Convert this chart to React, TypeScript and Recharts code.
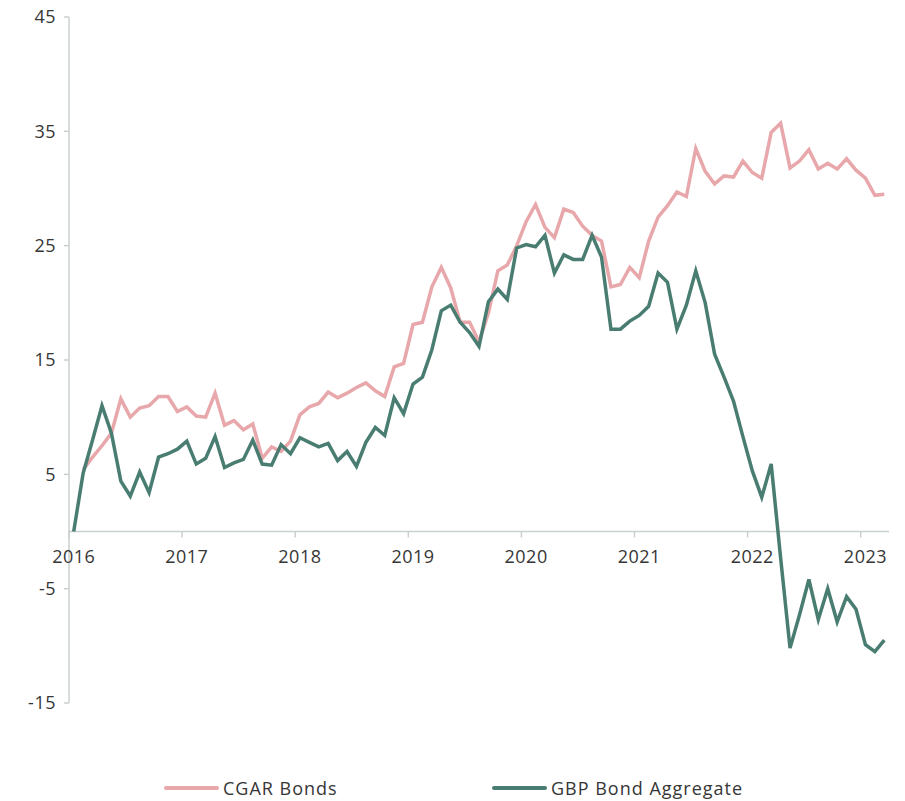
import { LineChart, Line, XAxis, YAxis, ReferenceLine, Legend } from "recharts"

const CHART_W = 905
const CHART_H = 801
const PLOT_TOP = 17
const PLOT_LEFT = 69
const PLOT_RIGHT = 889
const PLOT_BOTTOM = 703

const Y_MIN = -15
const Y_MAX = 45
const yTicks = [-15, -5, 5, 15, 25, 35, 45]

// monthly categories, Jan 2016 .. Mar 2023
const months: string[] = []
for (let y = 2016; y <= 2023; y++) {
  for (let m = 1; m <= 12; m++) {
    if (y === 2023 && m > 3) break
    months.push(`${y}-${String(m).padStart(2, "0")}`)
  }
}
const yearTicks = ["2016-01", "2017-01", "2018-01", "2019-01", "2020-01", "2021-01", "2022-01", "2023-01"]

const cgarBonds = [
  null, 5.4, 6.5, 7.5, 8.6, 11.6, 10.0, 10.8, 11.0, 11.8,
  11.8, 10.5, 10.9, 10.1, 10.0, 12.1, 9.3, 9.7, 8.9, 9.4,
  6.4, 7.4, 7.0, 7.9, 10.2, 10.9, 11.2, 12.2, 11.7, 12.1,
  12.6, 13.0, 12.3, 11.8, 14.4, 14.7, 18.1, 18.3, 21.4, 23.1,
  21.3, 18.3, 18.3, 16.6, 19.1, 22.8, 23.3, 25.0, 27.1, 28.6,
  26.6, 25.7, 28.2, 27.9, 26.7, 25.9, 25.4, 21.4, 21.6, 23.1,
  22.2, 25.4, 27.5, 28.5, 29.7, 29.3, 33.5, 31.5, 30.4, 31.1,
  31.0, 32.4, 31.4, 30.9, 34.9, 35.7, 31.8, 32.4, 33.4, 31.7,
  32.2, 31.7, 32.6, 31.6, 30.9, 29.4, 29.5,
]

const gbpBondAggregate = [
  0, 5.1, 8.0, 11.0, 8.6, 4.4, 3.1, 5.2, 3.4, 6.5,
  6.8, 7.2, 7.9, 5.9, 6.4, 8.3, 5.6, 6.0, 6.3, 8.0,
  5.9, 5.8, 7.6, 6.8, 8.2, 7.8, 7.4, 7.7, 6.2, 7.0,
  5.7, 7.8, 9.1, 8.4, 11.7, 10.3, 12.9, 13.5, 15.9, 19.3,
  19.8, 18.3, 17.4, 16.2, 20.1, 21.2, 20.3, 24.8, 25.1, 24.9,
  25.9, 22.6, 24.2, 23.8, 23.8, 25.9, 24.0, 17.7, 17.7, 18.4,
  18.9, 19.7, 22.6, 21.8, 17.7, 19.8, 22.8, 20.0, 15.5, 13.5,
  11.4, 8.3, 5.3, 3.0, 5.9, -2.3, -10.2, -7.3, -4.2, -7.7,
  -5.0, -7.9, -5.7, -6.8, -9.9, -10.5, -9.5,
]

const data = months.map((month, i) => ({
  month,
  cgar: cgarBonds[i],
  gbp: gbpBondAggregate[i],
}))

const PINK = "#E8A7AA"
const GREEN = "#4A7D72"
const AXIS = "#C8D1CE"
const TEXT = "#363636"
const FONT = "'Open Sans', 'Noto Sans', sans-serif"

const BAND = (PLOT_RIGHT - PLOT_LEFT) / months.length
const Y_ZERO = PLOT_TOP + ((Y_MAX - 0) / (Y_MAX - Y_MIN)) * (PLOT_BOTTOM - PLOT_TOP)

function YearTick(props: any) {
  const { x, payload } = props
  const edge = x - BAND / 2
  return (
    <g>
      <line x1={edge} x2={edge} y1={Y_ZERO} y2={Y_ZERO + 6} stroke={AXIS} strokeWidth={1.5} />
      <text
        x={x}
        y={Y_ZERO + 31}
        textAnchor="middle"
        fill={TEXT}
        fontSize={18}
        letterSpacing={0.5}
        fontFamily={FONT}
      >
        {String(payload.value).slice(0, 4)}
      </text>
    </g>
  )
}

function renderLegend() {
  const items = [
    { name: "CGAR Bonds", color: PINK, left: 164 },
    { name: "GBP Bond Aggregate", color: GREEN, left: 492 },
  ]
  return (
    <div style={{ position: "relative", height: 24, width: CHART_W }}>
      {items.map((it) => (
        <div
          key={it.name}
          style={{ position: "absolute", left: it.left, top: 0, height: 24, display: "flex", alignItems: "center" }}
        >
          <span style={{ display: "inline-block", width: 55, height: 4, borderRadius: 2, background: it.color }} />
          <span style={{ marginLeft: 4, fontSize: 18, letterSpacing: 1, color: TEXT, fontFamily: FONT }}>
            {it.name}
          </span>
        </div>
      ))}
    </div>
  )
}

export default function App() {
  return (
    <div style={{ position: "absolute", left: 0, top: 0, width: CHART_W, height: CHART_H, background: "#fff" }}>
      <LineChart
        width={CHART_W}
        height={CHART_H}
        data={data}
        margin={{ top: PLOT_TOP, right: CHART_W - PLOT_RIGHT, left: 0, bottom: 1 }}
      >
        <XAxis
          dataKey="month"
          ticks={yearTicks}
          interval={0}
          padding={{ left: BAND / 2, right: BAND / 2 }}
          axisLine={false}
          tickLine={false}
          height={73}
          tick={<YearTick />}
        />
        <YAxis
          domain={[Y_MIN, Y_MAX]}
          ticks={yTicks}
          width={PLOT_LEFT}
          axisLine={{ stroke: AXIS, strokeWidth: 1.5 }}
          tickLine={{ stroke: AXIS, strokeWidth: 1.5 }}
          tickSize={5}
          tickMargin={8}
          tick={{ fill: TEXT, fontSize: 18, letterSpacing: 0.5, fontFamily: FONT }}
        />
        <ReferenceLine y={0} stroke={AXIS} strokeWidth={1.5} />
        <Line
          type="linear"
          dataKey="cgar"
          name="CGAR Bonds"
          stroke={PINK}
          strokeWidth={3.5}
          dot={false}
          activeDot={false}
          isAnimationActive={false}
        />
        <Line
          type="linear"
          dataKey="gbp"
          name="GBP Bond Aggregate"
          stroke={GREEN}
          strokeWidth={3.5}
          dot={false}
          activeDot={false}
          isAnimationActive={false}
        />
        <Legend verticalAlign="bottom" content={renderLegend} />
      </LineChart>
    </div>
  )
}
